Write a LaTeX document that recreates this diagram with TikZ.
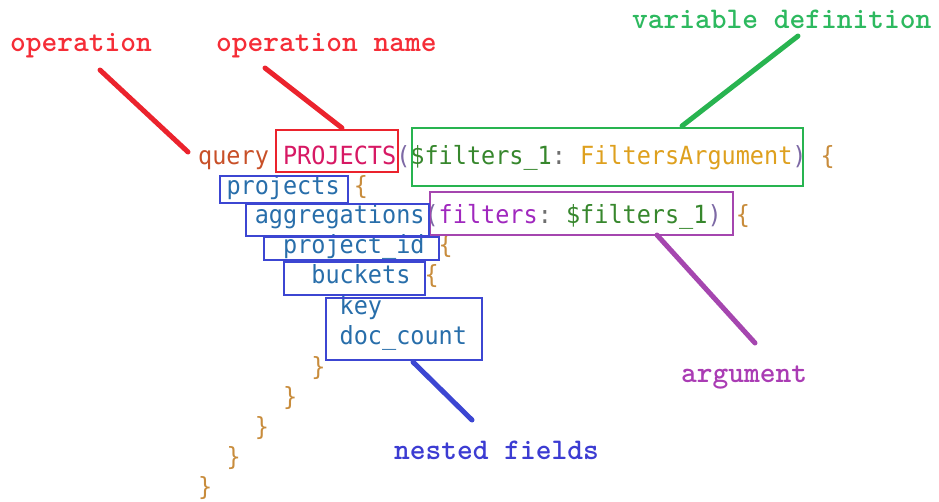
\documentclass[tikz,border=0pt]{standalone}
\usepackage{fontspec}
\usetikzlibrary{fit}
% code is set in a sans monospace, the callouts in a bold typewriter face
\newfontfamily\codefont{DejaVu Sans Mono}[FakeStretch=0.94]
\newfontfamily\tagfont{lmmonolt10-bold.otf}
\frenchspacing

% syntax colours
\definecolor{kwq}{RGB}{200,80,40}
\definecolor{opn}{RGB}{215,25,100}
\definecolor{punc}{RGB}{125,105,165}
\definecolor{colon}{RGB}{110,110,110}
\definecolor{varc}{RGB}{55,135,45}
\definecolor{typec}{RGB}{222,160,30}
\definecolor{brace}{RGB}{200,140,60}
\definecolor{ident}{RGB}{40,110,170}
\definecolor{argn}{RGB}{160,40,190}
% callout colours
\definecolor{cRed}{RGB}{235,35,45}
\definecolor{cGreen}{RGB}{40,180,80}
\definecolor{cPurple}{RGB}{165,70,175}
\definecolor{cBlue}{RGB}{60,70,210}
\definecolor{tRed}{RGB}{245,45,55}
\definecolor{tGreen}{RGB}{45,185,95}
\definecolor{tPurple}{RGB}{170,60,180}
\definecolor{tBlue}{RGB}{60,60,210}

\begin{document}
\begin{tikzpicture}[x=1pt,y=-1pt,
  code/.style={anchor=base west, inner sep=0pt,
    font=\codefont\fontsize{25}{30}\selectfont\frenchspacing},
  tag/.style={anchor=base west, inner sep=0pt,
    font=\tagfont\fontsize{30}{36}\selectfont},
  frame/.style={draw=#1, line width=2pt, inner sep=0pt},
  lead/.style={draw=#1, line width=5pt, line cap=round},
]
\useasboundingbox (0,0) rectangle (939,501);

% ---- the query ----
\node[code] (l1) at (198,164) {\textcolor{kwq}{query} \textcolor{opn}{PROJECTS}\textcolor{punc}{(}\textcolor{varc}{\$filters\_1}\textcolor{colon}{:} \textcolor{typec}{FiltersArgument}\textcolor{punc}{)} \textcolor{brace}{\{}};
\node[code] (l2) at (226.3,194) {\textcolor{ident}{projects} \textcolor{brace}{\{}};
\node[code] (l3) at (254.6,223) {\textcolor{ident}{aggregations}\textcolor{punc}{(}\textcolor{argn}{filters}\textcolor{colon}{:} \textcolor{varc}{\$filters\_1}\textcolor{punc}{)} \textcolor{brace}{\{}};
\node[code] (l4) at (282.9,253) {\textcolor{ident}{project\_id} \textcolor{brace}{\{}};
\node[code] (l5) at (311.2,283) {\textcolor{ident}{buckets} \textcolor{brace}{\{}};
\node[code] (l6) at (339.5,314) {\textcolor{ident}{key}};
\node[code] (l7) at (339.5,344) {\textcolor{ident}{doc\_count}};
\node[code] (c5) at (311.2,375) {\textcolor{brace}{\}}};
\node[code] (c4) at (282.9,405) {\textcolor{brace}{\}}};
\node[code] (c3) at (254.6,435) {\textcolor{brace}{\}}};
\node[code] (c2) at (226.3,465) {\textcolor{brace}{\}}};
\node[code] (c1) at (198,495) {\textcolor{brace}{\}}};

% ---- highlight frames ----
\node[frame=cRed, fit={(276,130) (398,172)}] (nameBox) {};
\node[frame=cGreen, fit={(412,128) (803,186)}] (varBox) {};
\node[frame=cPurple, fit={(430,192) (733,235)}] (argBox) {};
\node[frame=cBlue, fit={(220,176) (348,203)}] (fProjects) {};
\node[frame=cBlue, fit={(246,204) (429,236)}] (fAggs) {};
\node[frame=cBlue, fit={(264,237) (439,260)}] (fProjId) {};
\node[frame=cBlue, fit={(284,262) (425,295)}] (fBuckets) {};
\node[frame=cBlue, fit={(326,298) (482,360)}] (fLeaves) {};

% ---- callout labels ----
\node[tag, text=tRed] (tOp) at (10,51) {operation};
\node[tag, text=tRed] (tName) at (216,51) {operation name};
\node[tag, text=tGreen] (tVar) at (632,28) {variable definition};
\node[tag, text=tPurple] (tArg) at (681,382) {argument};
\node[tag, text=tBlue] (tNest) at (394,459) {nested fields};

% ---- leader strokes ----
\coordinate (opTail) at (100,70);
\coordinate (opHead) at (188,152);
\coordinate (nameTail) at (265,68);
\coordinate (nameHead) at (342,128);
\coordinate (varTail) at (798,36);
\coordinate (varHead) at (682,126);
\coordinate (argTail) at (755,343);
\coordinate (argHead) at (657,235);
\coordinate (nestTail) at (472,420);
\coordinate (nestHead) at (413,362);

\draw[lead=cRed] (opTail) -- (opHead);
\draw[lead=cRed] (nameTail) -- (nameHead);
\draw[lead=cGreen] (varTail) -- (varHead);
\draw[lead=cPurple] (argTail) -- (argHead);
\draw[lead=cBlue] (nestTail) -- (nestHead);
\end{tikzpicture}
\end{document}
